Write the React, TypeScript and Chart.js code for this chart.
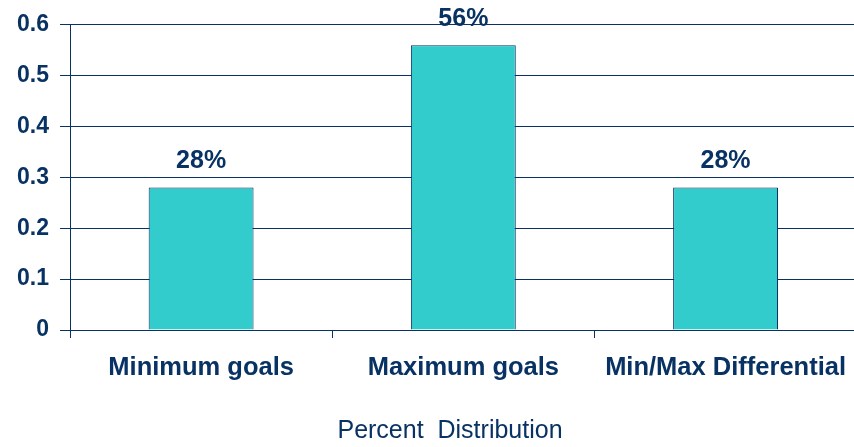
import React, { useEffect, useRef } from "react";
import { Chart, registerables } from "chart.js";

Chart.register(...registerables);

const categories = ["Minimum goals", "Maximum goals", "Min/Max Differential"];
const values = [0.28, 0.56, 0.28];
const valueLabels = ["28%", "56%", "28%"];
const yTickLabels = ["0", "0.1", "0.2", "0.3", "0.4", "0.5", "0.6"];
const xTitle = "Percent  Distribution";

const NAVY = "#083263";
const BAR = "#33CCCC";
const FONT = "'Liberation Sans', Arial, sans-serif";

const labelPlugin = {
  id: "valueLabels",
  afterDatasetsDraw(chart: any) {
    const ctx = chart.ctx;
    const meta = chart.getDatasetMeta(0);
    ctx.save();
    ctx.font = `bold 25px ${FONT}`;
    ctx.fillStyle = NAVY;
    ctx.textAlign = "center";
    ctx.textBaseline = "middle";
    meta.data.forEach((bar: any, i: number) => {
      ctx.fillText(valueLabels[i], bar.x, bar.y - 26);
    });
    // axis title
    ctx.font = `normal 25px ${FONT}`;
    ctx.fillText(xTitle, 450, 431);
    ctx.restore();
  },
};

export default function App() {
  const ref = useRef<HTMLCanvasElement>(null);
  useEffect(() => {
    if (!ref.current) return;
    const chart = new Chart(ref.current, {
      type: "bar",
      data: {
        labels: categories,
        datasets: [
          {
            data: values,
            backgroundColor: BAR,
            borderColor: NAVY,
            borderWidth: 1,
            barPercentage: 0.4,
            categoryPercentage: 1,
          },
        ],
      },
      options: {
        animation: false,
        responsive: false,
        layout: { padding: { top: 24, right: 0, left: 0, bottom: 0 } },
        plugins: { legend: { display: false }, tooltip: { enabled: false } },
        scales: {
          x: {
            offset: true,
            grid: {
              display: true,
              offset: true,
              drawOnChartArea: false,
              drawTicks: true,
              tickLength: 8,
              color: NAVY,
            },
            border: { display: true, color: NAVY, width: 1 },
            ticks: {
              color: NAVY,
              font: { family: FONT, size: 25.5, weight: "bold" },
              padding: 15,
              maxRotation: 0,
              autoSkip: false,
            },
            afterFit(scale: any) {
              scale.height = 117;
            },
          },
          y: {
            min: 0,
            max: 0.6,
            ticks: {
              stepSize: 0.1,
              color: NAVY,
              font: { family: FONT, size: 23, weight: "bold" },
              padding: 11,
              callback: (_v: any, i: number) => yTickLabels[i],
            },
            grid: { color: NAVY, tickLength: 10, lineWidth: 1 },
            border: { display: true, color: NAVY, width: 1 },
            afterFit(scale: any) {
              scale.width = 70;
            },
          },
        },
      },
      plugins: [labelPlugin],
    } as any);
    return () => chart.destroy();
  }, []);
  return (
    <div style={{ position: "fixed", left: 0, top: 0, width: 854, height: 447, overflow: "hidden", background: "#fff" }}>
      <canvas ref={ref} width={861} height={447} style={{ width: 861, height: 447 }} />
    </div>
  );
}
